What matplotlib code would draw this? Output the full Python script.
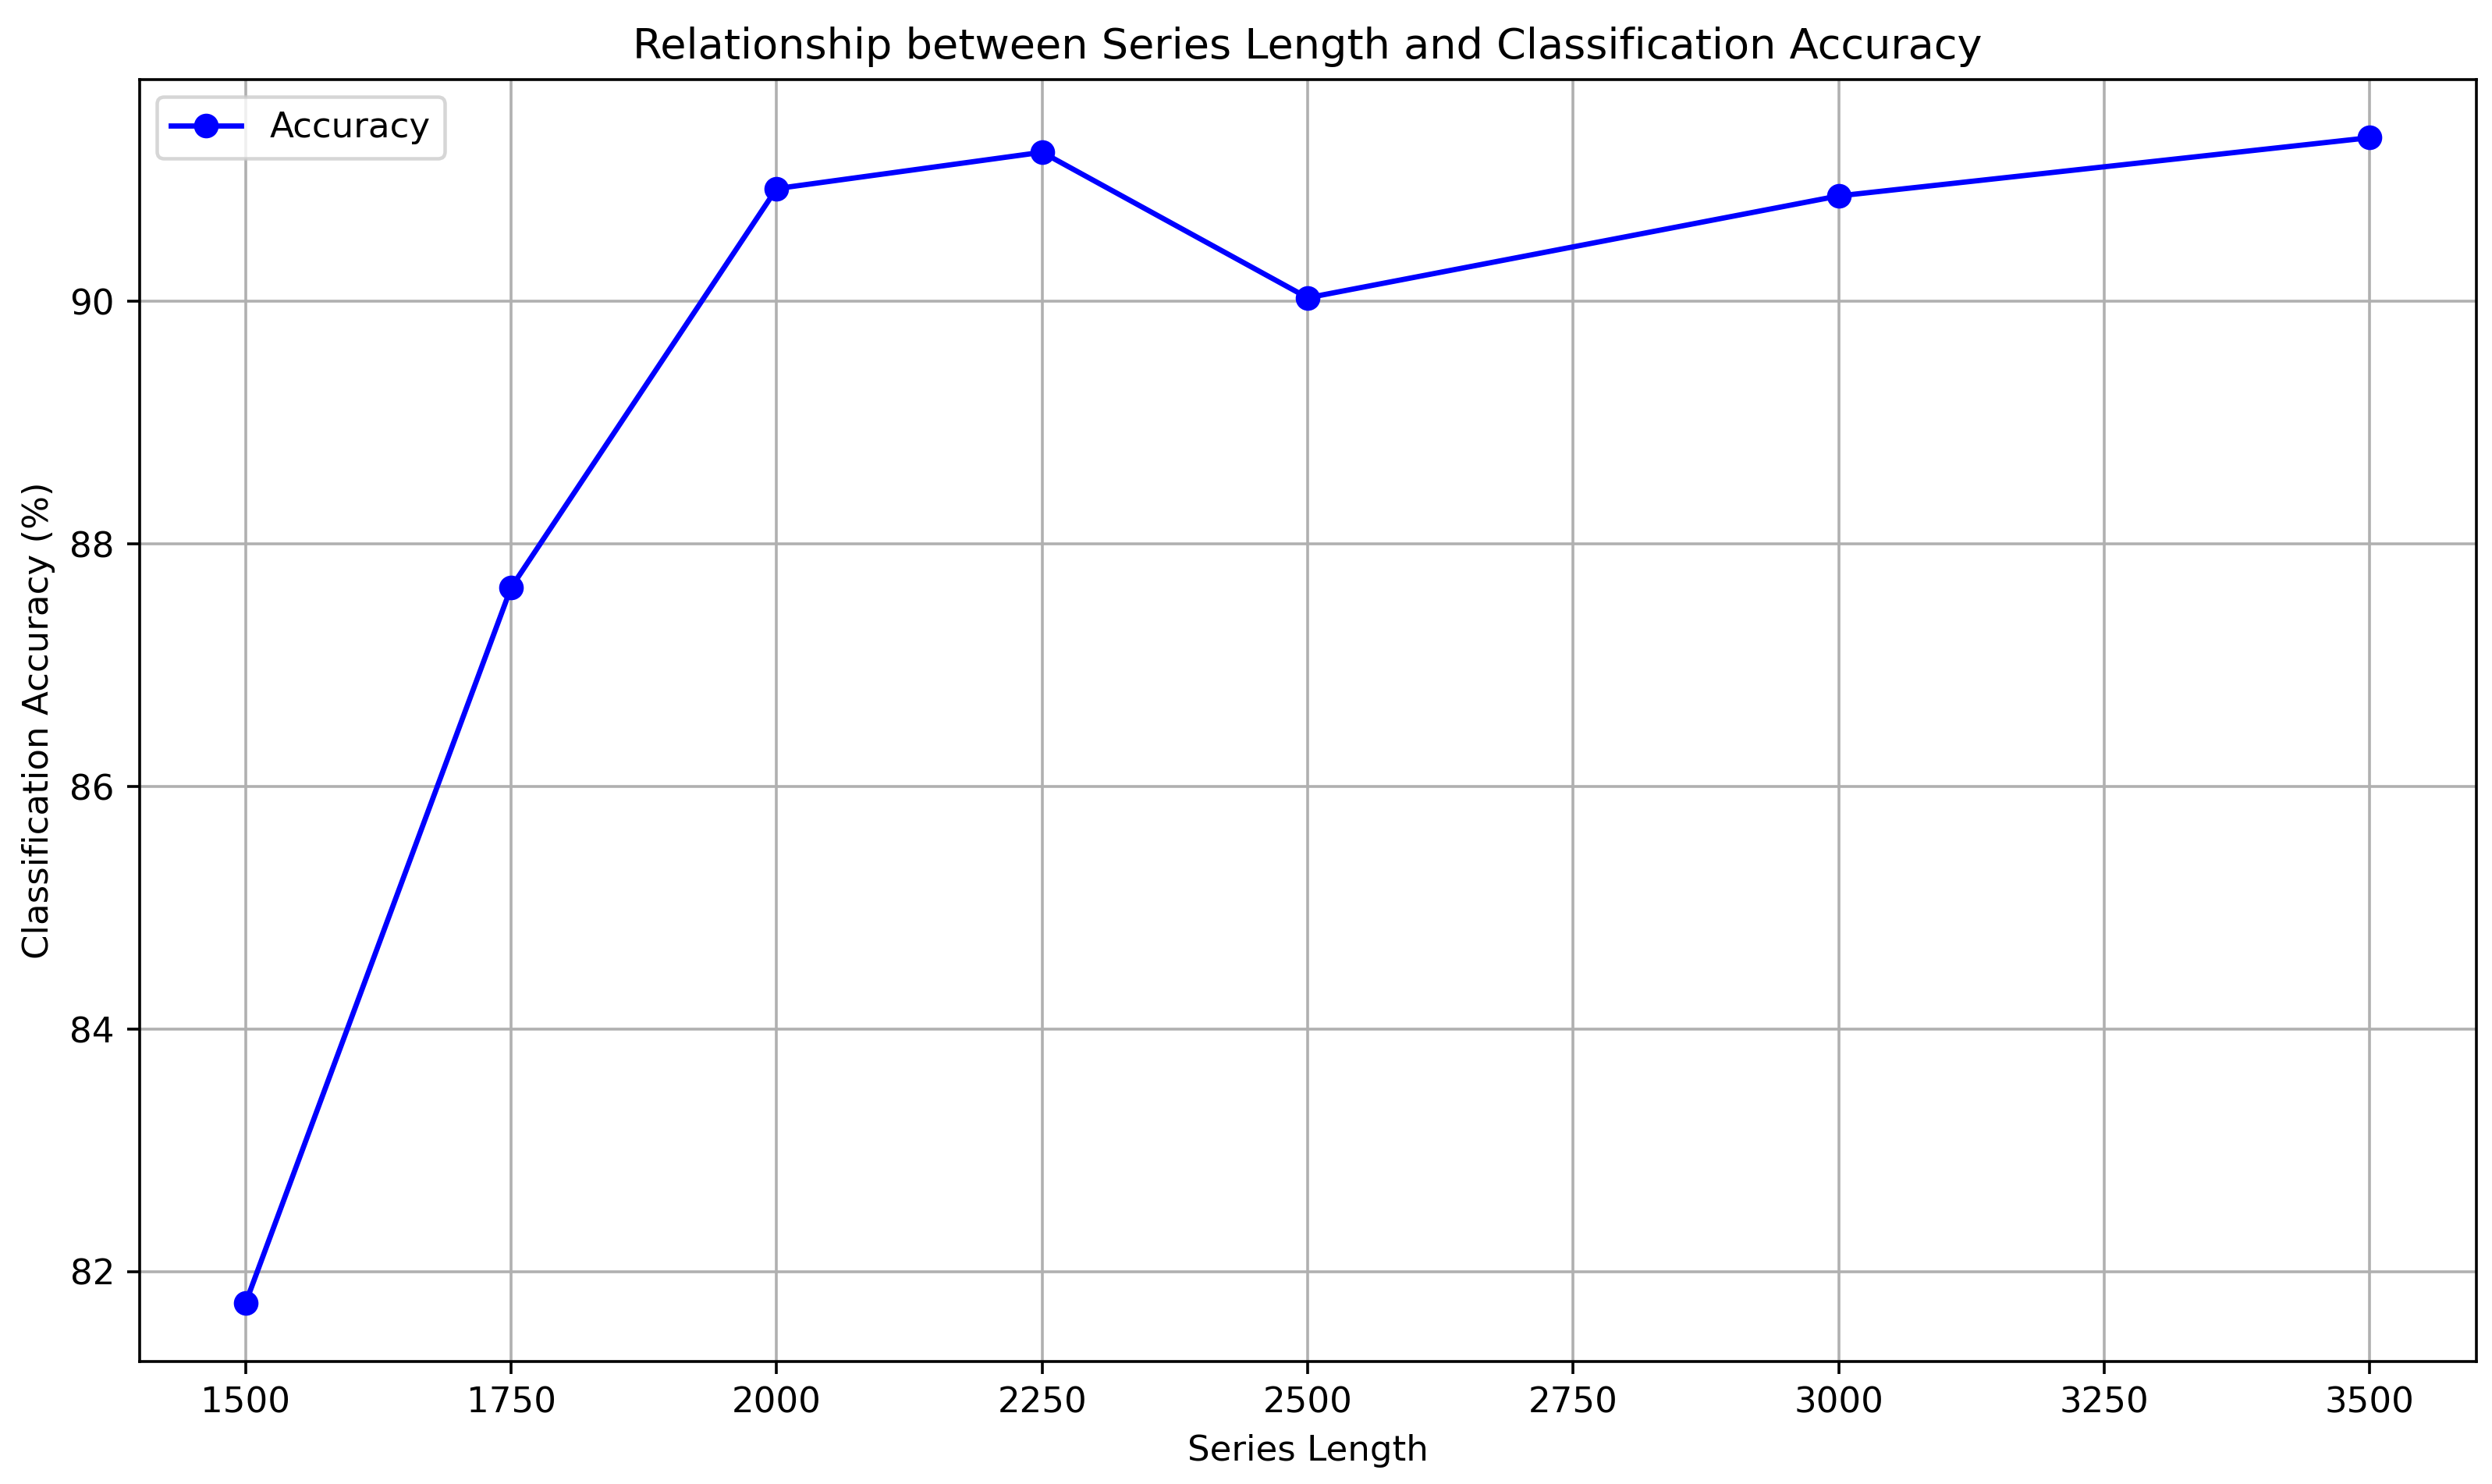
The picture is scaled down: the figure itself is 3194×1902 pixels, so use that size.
import matplotlib
matplotlib.use("Agg")
import matplotlib.pyplot as plt

# Series length vs accuracy values
series_length = [1500, 1750, 2000, 2250, 2500, 3000, 3500]
accuracy = [81.74, 87.64, 90.93, 91.23, 90.03, 90.87, 91.35]

fig = plt.figure(figsize=(3194 / 325, 1902 / 325), dpi=325)
ax = fig.add_axes([0.0559, 0.0825, 0.9377, 0.864])

ax.plot(series_length, accuracy, marker='o', color='blue', linestyle='-', label='Accuracy')

ax.set_title('Relationship between Series Length and Classification Accuracy')
ax.set_xlabel('Series Length')
ax.set_ylabel('Classification Accuracy (%)')
ax.grid(True)
ax.legend(loc='upper left')

fig.savefig('out.png', dpi=325)
